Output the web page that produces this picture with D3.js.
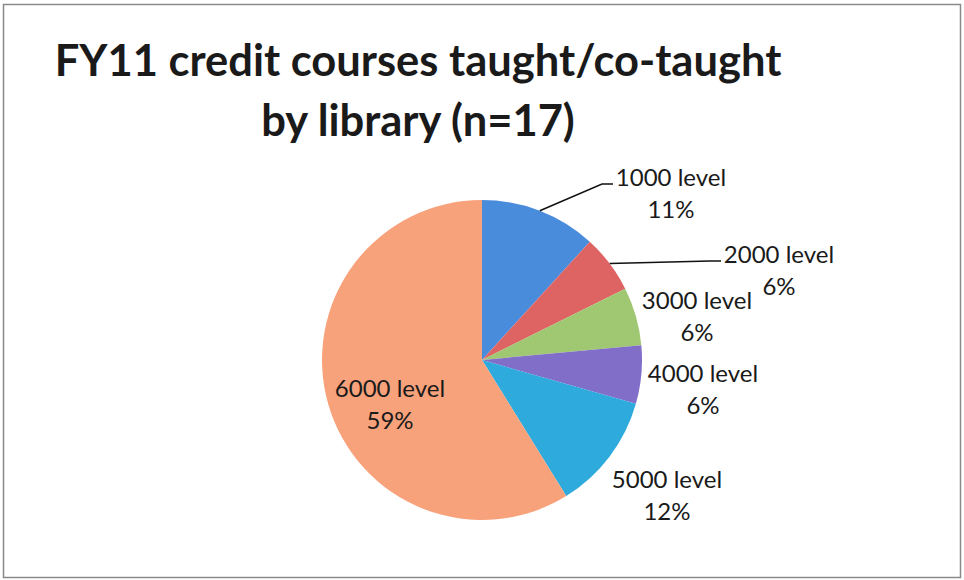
<!DOCTYPE html>
<html>
<head>
<meta charset="utf-8">
<script src="https://cdn.jsdelivr.net/npm/d3@7"></script>
<style>
  body { margin: 0; background: #fff; }
  text { font-family: Lato, "Open Sans", sans-serif; fill: #1a1a1a; }
</style>
</head>
<body>
<script>
// data
var categories = ["1000 level", "2000 level", "3000 level", "4000 level", "5000 level", "6000 level"];
var counts = [2, 1, 1, 1, 2, 10];
var percents = ["11%", "6%", "6%", "6%", "12%", "59%"];

// colors per slice
var colors = ["#4a8cdc", "#de6464", "#a0c873", "#806ec8", "#2eaadc", "#f8a27c"];

// label placement (offset of first baseline from pie centre), leader lines
var labelOffset = [[189, -174], [297, -97], [215, -51], [221, 22], [185, 128], [-92, 37]];
var hasLeader = [true, true, false, false, false, false];

var width = 964, height = 580,
    cx = 482, cy = 360,
    radius = 160;

var data = categories.map(function(c, i) {
  return {name: c, count: counts[i], pct: percents[i], i: i};
});

var svg = d3.select("body").append("svg")
    .attr("width", width)
    .attr("height", height);

// frame
svg.append("rect")
    .attr("x", 3.5).attr("y", 4.5)
    .attr("width", 957).attr("height", 573)
    .attr("fill", "none")
    .attr("stroke", "#8a8a8a")
    .attr("stroke-width", 1.5);

// title
var title = svg.append("text")
    .attr("text-anchor", "middle")
    .style("font-weight", "bold")
    .style("font-size", "43.5px");
title.append("tspan").attr("x", 418).attr("y", 76).text("FY11 credit courses taught/co-taught");
title.append("tspan").attr("x", 418).attr("y", 136).text("by library (n=17)");

var pie = d3.pie()
    .sort(null)
    .value(function(d) { return d.count; });

var arc = d3.arc()
    .outerRadius(radius)
    .innerRadius(0);

var g = svg.append("g")
    .attr("transform", "translate(" + cx + "," + cy + ")");

var arcs = pie(data);

g.selectAll(".slice")
    .data(arcs)
  .enter().append("path")
    .attr("class", "slice")
    .attr("d", arc)
    .attr("fill", function(d) { return colors[d.data.i]; });

// leader lines: from the rim at mid angle to the left of the label
g.selectAll(".leader")
    .data(arcs.filter(function(d) { return hasLeader[d.data.i]; }))
  .enter().append("polyline")
    .attr("class", "leader")
    .attr("fill", "none")
    .attr("stroke", "#111")
    .attr("stroke-width", 1.5)
    .attr("points", function(d) {
      var a = (d.startAngle + d.endAngle) / 2;
      var sx = radius * Math.sin(a), sy = -radius * Math.cos(a);
      var off = labelOffset[d.data.i];
      var ex = off[0] - 58, ey = off[1] - 2;
      return [[sx, sy], [ex - 11, ey], [ex, ey]].join(" ");
    });

// labels
var labels = g.selectAll(".label")
    .data(arcs)
  .enter().append("text")
    .attr("class", "label")
    .attr("text-anchor", "middle")
    .style("font-size", "24px");

labels.append("tspan")
    .attr("x", function(d) { return labelOffset[d.data.i][0]; })
    .attr("y", function(d) { return labelOffset[d.data.i][1]; })
    .text(function(d) { return d.data.name; });

labels.append("tspan")
    .attr("x", function(d) { return labelOffset[d.data.i][0]; })
    .attr("y", function(d) { return labelOffset[d.data.i][1] + 32; })
    .text(function(d) { return d.data.pct; });
</script>
</body>
</html>
